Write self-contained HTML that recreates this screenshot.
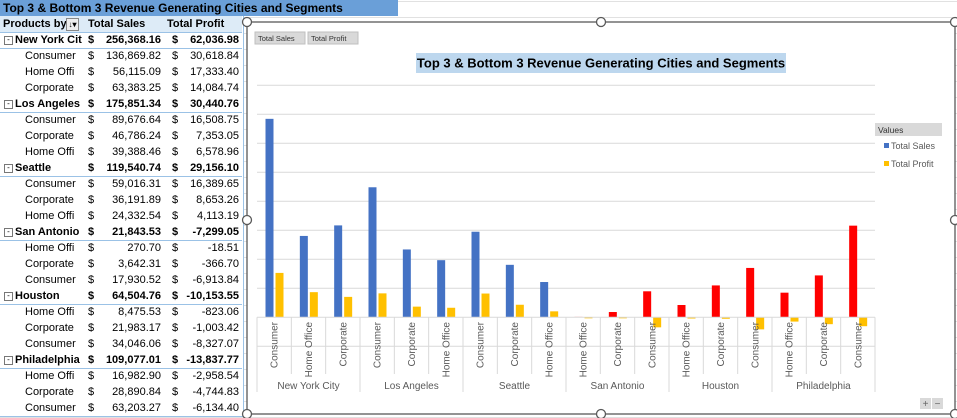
<!DOCTYPE html>
<html><head><meta charset="utf-8">
<style>
body{margin:0;width:957px;height:418px;overflow:hidden;background:#fff;font-family:"Liberation Sans",sans-serif;position:relative}
.abs{position:absolute}
.row{position:absolute;left:0;width:242px;height:16px;font-size:11px;line-height:16px;color:#000}
.row span{position:absolute;top:0}
.b{font-weight:bold}
</style></head><body>
<div class="abs" style="left:0;top:0;width:957px;height:418px;background-image:linear-gradient(#e1e1e1 1px,transparent 1px);background-size:100% 16px;background-position:0 1px"></div>
<div class="abs" style="left:0;top:0;width:398px;height:16px;background:#6a9fd8;font-weight:bold;font-size:12px;line-height:16px;padding-left:3px;box-sizing:border-box">Top 3 &amp; Bottom 3 Revenue Generating Cities and Segments</div>
<div class="abs" id="pt" style="left:0;top:16px;width:243px;height:400px;background:#fff;border-right:1px solid #9bc2e6;border-bottom:1px solid #9bc2e6"></div>
<svg class="abs" style="left:0;top:0" width="957" height="418" id="ch">
</svg>
<script>
const rows=[
["h","Products by","Total Sales","Total Profit"],
["c","New York Cit","256,368.16","62,036.98"],
["s","Consumer","136,869.82","30,618.84"],
["s","Home Offi","56,115.09","17,333.40"],
["s","Corporate","63,383.25","14,084.74"],
["c","Los Angeles","175,851.34","30,440.76"],
["s","Consumer","89,676.64","16,508.75"],
["s","Corporate","46,786.24","7,353.05"],
["s","Home Offi","39,388.46","6,578.96"],
["c","Seattle","119,540.74","29,156.10"],
["s","Consumer","59,016.31","16,389.65"],
["s","Corporate","36,191.89","8,653.26"],
["s","Home Offi","24,332.54","4,113.19"],
["c","San Antonio","21,843.53","-7,299.05"],
["s","Home Offi","270.70","-18.51"],
["s","Corporate","3,642.31","-366.70"],
["s","Consumer","17,930.52","-6,913.84"],
["c","Houston","64,504.76","-10,153.55"],
["s","Home Offi","8,475.53","-823.06"],
["s","Corporate","21,983.17","-1,003.42"],
["s","Consumer","34,046.06","-8,327.07"],
["c","Philadelphia","109,077.01","-13,837.77"],
["s","Home Offi","16,982.90","-2,958.54"],
["s","Corporate","28,890.84","-4,744.83"],
["s","Consumer","63,203.27","-6,134.40"]];
const pt=document.getElementById('pt');
rows.forEach((r,i)=>{
 const d=document.createElement('div');
 
 
 d.className='row'+(r[0]!='s'?' b':'');
 d.style.top=(i*16)+'px';
 if(r[0]=='h'){d.style.background='#ddebf7';d.style.borderBottom='1px solid #9bc2e6';
  d.innerHTML='<span style="left:3px">'+r[1]+'</span><span style="left:66px;top:2px;width:11px;height:11px;border:1px solid #888;background:#eee;font-size:8px;line-height:11px;text-align:center">↓▾</span><span style="left:88px">'+r[2]+'</span><span style="left:167px">'+r[3]+'</span>';}
 else{
  if(r[0]=='c')d.style.borderBottom='1px solid #9bc2e6';
  const lab=r[0]=='c'?'<span style="left:4px;top:4px;width:7px;height:7px;border:1px solid #777;font-size:8px;line-height:6px;text-align:center;font-weight:normal">-</span><span style="left:15px">'+r[1]+'</span>':'<span style="left:25px">'+r[1]+'</span>';
  d.innerHTML=lab+'<span style="left:88px">$</span><span style="right:81px">'+r[2]+'</span><span style="left:172px">$</span><span style="right:3px">'+r[3]+'</span>';}
 pt.appendChild(d);
});

// chart data
const cities=["New York City","Los Angeles","Seattle","San Antonio","Houston","Philadelphia"];
const segments=[["Consumer","Home Office","Corporate"],["Consumer","Corporate","Home Office"],["Consumer","Corporate","Home Office"],["Home Office","Corporate","Consumer"],["Home Office","Corporate","Consumer"],["Home Office","Corporate","Consumer"]];
const sales=[136869.82,56115.09,63383.25,89676.64,46786.24,39388.46,59016.31,36191.89,24332.54,270.70,3642.31,17930.52,8475.53,21983.17,34046.06,16982.90,28890.84,63203.27];
const profit=[30618.84,17333.40,14084.74,16508.75,7353.05,6578.96,16389.65,8653.26,4113.19,-18.51,-366.70,-6913.84,-823.06,-1003.42,-8327.07,-2958.54,-4744.83,-6134.40];
const yTicks=[-20000,0,20000,40000,60000,80000,100000,120000,140000,160000];

const S='http://www.w3.org/2000/svg',svg=document.getElementById('ch');
function el(t,a,txt){const e=document.createElementNS(S,t);for(const k in a)e.setAttribute(k,a[k]);if(txt!=null)e.textContent=txt;svg.appendChild(e);return e;}
const X0=257,X1=875,Y0=317.3,PX=29/20000;
const y=v=>Y0-v*PX;
const n=sales.length,cw=(X1-X0)/n;
const x=i=>X0+i*cw;
let e=el('rect',{x:247,y:22,width:708,height:392,fill:'#fff',stroke:'#595959','stroke-width':1.3});

[['Total Sales',255,50],['Total Profit',308,50]].forEach(b=>{
 let r=el('rect',{x:b[1],y:32,width:b[2],height:12,fill:'#d9d9d9',stroke:'#bfbfbf'});
 
 el('text',{x:b[1]+3,y:41,'font-size':7.5,fill:'#333'},b[0]);
});
e=el('rect',{x:416,y:53,width:370,height:20,fill:'#bdd7ee'});

e=el('text',{x:601,y:67.5,'font-size':13,'font-weight':'bold','text-anchor':'middle',fill:'#000'},'Top 3 & Bottom 3 Revenue Generating Cities and Segments');

yTicks.forEach(t=>{if(t==0)return;e=el('line',{x1:X0,x2:X1,y1:y(t),y2:y(t),stroke:'#d9d9d9','stroke-width':1});
 });
for(let i=0;i<n;i++){
 const bottom=i>=9;
 const sv=sales[i],pv=profit[i];
 e=el('rect',{x:x(i)+8.5,y:Math.min(y(sv),Y0),width:8,height:Math.abs(y(sv)-Y0),fill:bottom?'#ff0000':'#4472c4'});
 
 e=el('rect',{x:x(i)+18.5,y:Math.min(y(pv),Y0),width:8,height:Math.max(1,Math.abs(y(pv)-Y0)),fill:'#ffc000'});
 
}
el('line',{x1:X0,x2:X1,y1:Y0,y2:Y0,stroke:'#d9d9d9'});
for(let i=0;i<=n;i++){const g=i%3==0;el('line',{x1:x(i),x2:x(i),y1:Y0,y2:g?392:374,stroke:'#d9d9d9'});}
let k=0;
cities.forEach((c,ci)=>{
 segments[ci].forEach(s=>{const cx=x(k)+cw/2+3.5;
  e=el('text',{x:cx,y:322,'font-size':10,fill:'#595959','text-anchor':'end',transform:`rotate(-90 ${cx} 322)`},s);
  k++;});
 e=el('text',{x:x(ci*3)+cw*1.5,y:389,'font-size':10,fill:'#595959','text-anchor':'middle'},c);
 
});
e=el('rect',{x:875,y:123,width:67,height:13,fill:'#d9d9d9'});

el('text',{x:878,y:133,'font-size':8.5,fill:'#333'},'Values');
[['Total Sales','#4472c4',149],['Total Profit','#ffc000',167]].forEach(l=>{
 e=el('rect',{x:884,y:l[2]-6,width:5,height:5,fill:l[1]});
 el('text',{x:891,y:l[2],'font-size':9,fill:'#595959'},l[0]);
});
[['+',920],['−',932]].forEach(b=>{el('rect',{x:b[1],y:398,width:11,height:11,fill:'#d9d9d9'});el('text',{x:b[1]+5.5,y:407,'font-size':10,'text-anchor':'middle',fill:'#666'},b[0]);});
[[247,22],[601,22],[955,22],[247,220],[955,220],[247,414],[601,414],[955,414]].forEach(h=>{
 e=el('circle',{cx:h[0],cy:h[1],r:4.5,fill:'#fff',stroke:'#595959','stroke-width':1.3});
 
});
</script>
</body></html>
